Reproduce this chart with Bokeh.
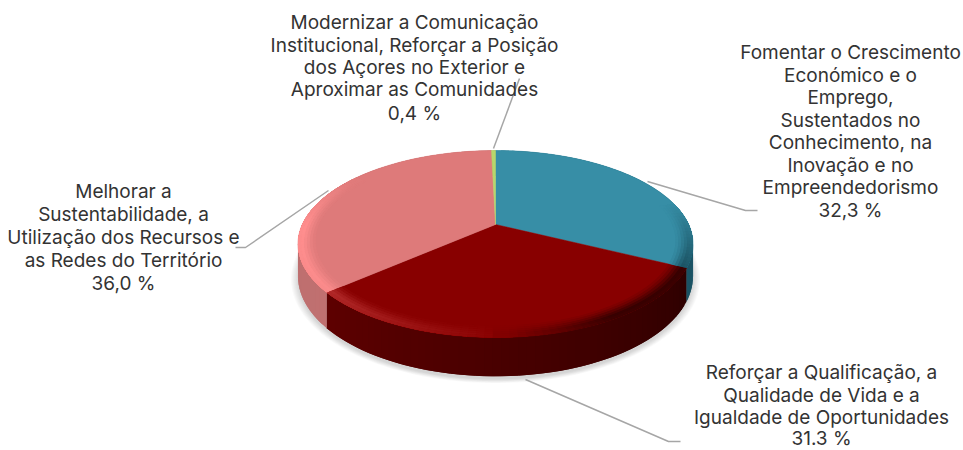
import numpy as np
from bokeh.plotting import figure
from bokeh.models import ColumnDataSource, Range1d
from bokeh.core.properties import value
from bokeh.embed import file_html
from bokeh.resources import INLINE

# Data
shares = [32.3, 31.3, 36.0, 0.4]
share_labels = ["32,3 %", "31.3 %", "36,0 %", "0,4 %"]
names = [
    ["Fomentar o Crescimento", "Económico e o", "Emprego,", "Sustentados no", "Conhecimento, na", "Inovação e no", "Empreendedorismo"],
    ["Reforçar a Qualificação, a", "Qualidade de Vida e a", "Igualdade de Oportunidades"],
    ["Melhorar a", "Sustentabilidade, a", "Utilização dos Recursos e", "as Redes do Território"],
    ["Modernizar a Comunicação", "Institucional, Reforçar a Posição", "dos Açores no Exterior e", "Aproximar as Comunidades"],
]
top_colors = ["#378ea6", "#880000", "#de7a7a", "#b7d66c"]
side_left = ["#2a6f84", "#2e0000", "#c07070", "#8aa050"]
side_right = ["#1b5263", "#5e0000", "#b56a6a", "#8aa050"]
hi_colors = ["#5fb5cc", "#b83030", "#ff8e8e", "#c8e080"]
lo_colors = ["#174a59", "#2a0000", "#a05050", "#80a040"]

# Layout of the labels and the leaders (pixels)
label_x = [850, 821, 123, 414]
label_y = [[52, 75, 97, 120, 142, 165, 187, 210], [372, 395, 417, 438], [191, 214, 237, 260, 283], [22, 45, 67, 89, 113]]
leaders_x = [[647, 745, 757], [525, 668, 680], [328, 245, 235], [493, 519]]
leaders_y = [[181, 210, 210], [379, 441, 441], [190, 247, 247], [148, 78]]

# Pie projection
CX, CY, A, B, K, D = 495.0, 224.0, 193.2, 89.4, 0.2085, 30.8


def proj(theta, r=1.0):
    X = r * np.sin(theta)
    Y = -r * np.cos(theta)
    w = 1 - K * Y
    return CX + A * X / w, CY + B * Y / w, w


def rgb(h):
    return np.array([int(h[i:i + 2], 16) for i in (1, 3, 5)], float)


def mix(a, b, t):
    c = rgb(a) * (1 - t) + rgb(b) * t
    return "#%02x%02x%02x" % tuple(int(round(v)) for v in c)


p = figure(width=963, height=450, x_range=Range1d(0, 963), y_range=Range1d(450, 0),
           output_backend="svg", toolbar_location=None, min_border=0)
p.axis.visible = False
p.grid.visible = False
p.outline_line_color = None
p.background_fill_color = "white"
p.border_fill_color = "white"
p.styles = {"position": "absolute", "left": "0px", "top": "0px"}

total = sum(shares)
edges = np.concatenate([[0], np.cumsum(shares)]) / total * 2 * np.pi

# Shadow
th = np.linspace(0, 2 * np.pi, 180)
sx, sy, sw = proj(th)
sy = sy + D / sw
for s in np.linspace(1.0, 1.035, 7):
    p.patch(CX + (sx - CX) * s, 270 + (sy - 270) * s + 3, fill_color="#000000", fill_alpha=0.022, line_color=None)

# Side wall (each quad overlaps the next so no seams show)
xs, ys, cols = [], [], []
for i in range(len(shares)):
    n = max(2, int((edges[i + 1] - edges[i]) / np.radians(2)))
    t = np.linspace(edges[i], edges[i + 1], n + 1)
    for j in range(n):
        a, b = t[j], t[min(j + 2, n)]
        xa, ya, wa = proj(a)
        xb, yb, wb = proj(b)
        xs.append([xa, xb, xb, xa])
        ys.append([ya, yb, yb + D / wb, ya + D / wa])
        cols.append(mix(side_left[i], side_right[i], (j + .5) / n))
src = ColumnDataSource(dict(xs=xs, ys=ys, c=cols))
p.patches("xs", "ys", source=src, fill_color="c", line_color=None)

# Top surface
for i in range(len(shares)):
    t = np.linspace(edges[i], edges[i + 1], max(3, int((edges[i + 1] - edges[i]) / np.radians(1))))
    x, y, _ = proj(t)
    p.patch(np.r_[CX, x], np.r_[CY, y], fill_color=top_colors[i], line_color=top_colors[i], line_width=0.5)

# Bevel shading along the rim: inner rings first, each reaching out to the rim
light_deg = [0, 75, 95, 116, 150, 185, 229, 270, 305, 360]
light_val = [0, 0, -.4, -.85, -.85, .15, .85, 1, 0, 0]
rings = np.linspace(0.915, 1.0, 7)
prof = [0.12, 0.3, 0.55, 0.8, 1.0, 0.95]
xs, ys, cols = [], [], []
for k in range(len(rings) - 1):
    for i in range(len(shares)):
        n = max(1, int((edges[i + 1] - edges[i]) / np.radians(2)))
        t = np.linspace(edges[i], edges[i + 1], n + 1)
        for j in range(n):
            a, b = t[j], t[min(j + 2, n)]
            L = np.interp(np.degrees((t[j] + t[j + 1]) / 2), light_deg, light_val)
            if abs(L) < 0.03:
                continue
            x1, y1, _ = proj(a, rings[k])
            x2, y2, _ = proj(b, rings[k])
            x3, y3, _ = proj(b, 1.0)
            x4, y4, _ = proj(a, 1.0)
            f = abs(L) * prof[k]
            xs.append([x1, x2, x3, x4])
            ys.append([y1, y2, y3, y4])
            cols.append(mix(top_colors[i], hi_colors[i] if L > 0 else lo_colors[i], f))
src = ColumnDataSource(dict(xs=xs, ys=ys, c=cols))
p.patches("xs", "ys", source=src, fill_color="c", line_color=None)

# Leaders
for lx, ly in zip(leaders_x, leaders_y):
    p.line(lx, ly, line_color="#a6a6a6", line_width=1.5)

# Labels
for i in range(len(shares)):
    lines = names[i] + [share_labels[i]]
    p.text([label_x[i]] * len(lines), label_y[i], text=lines, text_font=value("Inter"),
           text_font_size="19px", text_color="#333333", text_align="center", text_baseline="middle")

open("out.html", "w").write(file_html(p, INLINE))
